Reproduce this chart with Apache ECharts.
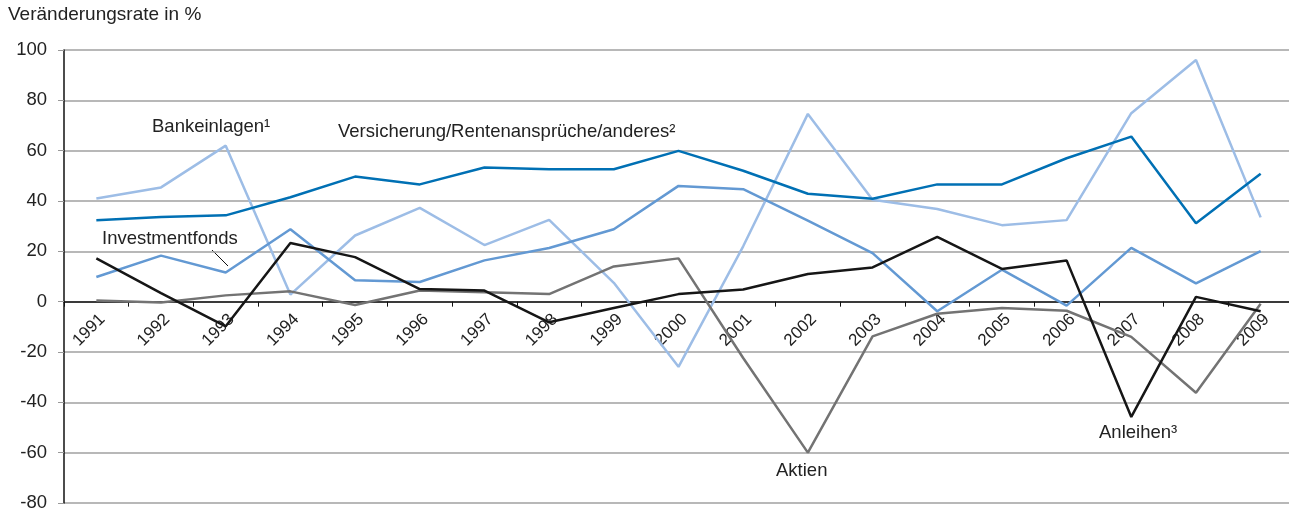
<!DOCTYPE html>
<html>
<head>
<meta charset="utf-8">
<script src="https://cdn.jsdelivr.net/npm/echarts@6/dist/echarts.min.js"></script>
<style>
  html, body { margin: 0; padding: 0; background: #fff; }
  #main { width: 1289px; height: 512px; }
</style>
</head>
<body>
<div id="main"></div>
<script>
// Jahre und Veränderungsraten in %
var years = ['1991','1992','1993','1994','1995','1996','1997','1998','1999','2000',
             '2001','2002','2003','2004','2005','2006','2007','2008','2009'];

var bankeinlagen    = [41, 45.4, 62, 2.8, 26.3, 37.3, 22.5, 32.5, 7.5, -25.9, 22, 74.6, 40.5, 36.8, 30.4, 32.4, 74.9, 96, 33.5];
var versicherung    = [32.4, 33.6, 34.3, 41.5, 49.7, 46.6, 53.3, 52.6, 52.6, 59.9, 52, 42.9, 40.9, 46.6, 46.6, 57, 65.6, 31.2, 50.8];
var investmentfonds = [9.8, 18.3, 11.6, 28.8, 8.5, 7.8, 16.4, 21.3, 28.8, 46, 44.7, 32.2, 19.3, -3.8, 12.7, -1.6, 21.4, 7.3, 20.1];
var anleihen        = [17.2, 3.4, -9.8, 23.3, 17.7, 5, 4.4, -8.2, -2.5, 3, 4.8, 11, 13.6, 25.7, 13, 16.4, -45.8, 1.9, -3.8];
var aktien          = [0.5, -0.3, 2.5, 4.1, -1.3, 4.4, 3.7, 3, 14, 17.2, -22.4, -60, -13.8, -4.8, -2.5, -3.6, -14, -36.2, -0.8];

var yMin = -80, yMax = 100;
var font = 'Liberation Sans, Arial, sans-serif';
var myChart = echarts.init(document.getElementById('main'));

// Plotfläche: oben 50, unten 503 -> x-Achse auf der Nulllinie
var gridTop = 50, gridBottomY = 503;
var plotH = gridBottomY - gridTop;
var zeroOffset = -plotH * (0 - yMin) / (yMax - yMin);

function line(name, data, color) {
    return {
        name: name,
        type: 'line',
        data: data,
        symbol: 'none',
        lineStyle: { color: color, width: 2.5 },
        itemStyle: { color: color }
    };
}

var option = {
    backgroundColor: '#fff',
    animation: false,
    grid: { left: 64, right: -4, top: gridTop, bottom: 512 - gridBottomY, outerBoundsMode: 'none', containLabel: false },
    xAxis: {
        type: 'category',
        data: years,
        boundaryGap: true,
        offset: zeroOffset,
        axisLine: { onZero: false, lineStyle: { color: '#111', width: 1.5 } },
        axisTick: { show: true, length: 5, lineStyle: { color: '#111', width: 1 } },
        axisLabel: {
            rotate: 45, margin: 9, color: '#222', verticalAlign: 'top',
            fontFamily: font, fontSize: 17, interval: 0
        },
        splitLine: { show: false }
    },
    yAxis: {
        type: 'value',
        min: yMin, max: yMax, interval: 20,
        axisLine: { show: true, lineStyle: { color: '#111', width: 1.5 } },
        axisTick: { show: true, length: 6, lineStyle: { color: '#999' } },
        axisLabel: { color: '#222', fontFamily: font, fontSize: 18.5, margin: 17 },
        splitLine: { lineStyle: { color: '#a0a0a0', width: 1.5 } }
    },
    series: [
        line('Bankeinlagen', bankeinlagen, '#9dbde6'),
        line('Versicherung/Rentenansprüche/anderes', versicherung, '#0070b4'),
        line('Investmentfonds', investmentfonds, '#6399d3'),
        line('Aktien', aktien, '#737373'),
        line('Anleihen', anleihen, '#161616')
    ],
    graphic: [
        { type: 'text', left: 8, top: 5,
          style: { text: 'Veränderungsrate in %', font: '19px ' + font, fill: '#222' } },
        { type: 'text', left: 152, top: 117,
          style: { text: 'Bankeinlagen¹', font: '18.5px ' + font, fill: '#222' } },
        { type: 'text', left: 338, top: 122,
          style: { text: 'Versicherung/Rentenansprüche/anderes²', font: '18.5px ' + font, fill: '#222' } },
        { type: 'text', left: 102, top: 229,
          style: { text: 'Investmentfonds', font: '18.5px ' + font, fill: '#222' } },
        { type: 'line', shape: { x1: 212, y1: 250, x2: 228, y2: 266 },
          style: { stroke: '#111', lineWidth: 1 } },
        { type: 'text', left: 776, top: 461,
          style: { text: 'Aktien', font: '18.5px ' + font, fill: '#222' } },
        { type: 'text', left: 1099, top: 423,
          style: { text: 'Anleihen³', font: '18.5px ' + font, fill: '#222' } }
    ]
};

myChart.setOption(option);
</script>
</body>
</html>
